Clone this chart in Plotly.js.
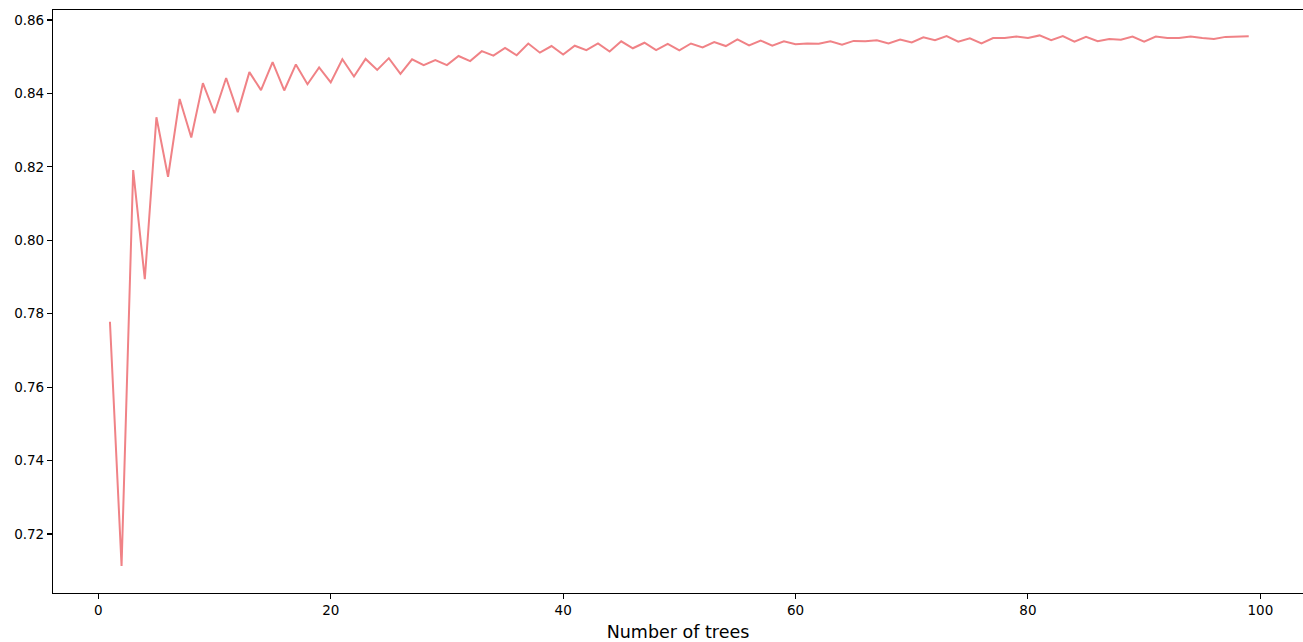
<!DOCTYPE html>
<html>
<head>
<meta charset="utf-8">
<script src="https://cdn.plot.ly/plotly-3.0.1.min.js"></script>
<style>
  html, body { margin: 0; padding: 0; background: #fff; }
  #chart { width: 1303px; height: 642px; }
</style>
</head>
<body>
<div id="chart"></div>
<script>
// Number of trees in the ensemble (1..99)
const nTrees = Array.from({length: 99}, (_, i) => i + 1);

// Accuracy score for each ensemble size
const accuracy = [
  0.7778, 0.7113, 0.8191, 0.7894, 0.8335, 0.8173, 0.8385, 0.8280, 0.8428, 0.8346,
  0.8442, 0.8349, 0.8458, 0.8409, 0.8485, 0.8408, 0.8479, 0.8425, 0.8471, 0.8430,
  0.8493, 0.8446, 0.8494, 0.8464, 0.8496, 0.8453, 0.8493, 0.8477, 0.8491, 0.8477,
  0.8502, 0.8488, 0.8515, 0.8503, 0.8524, 0.8504, 0.8536, 0.8511, 0.8529, 0.8506,
  0.8530, 0.8518, 0.8536, 0.8514, 0.8542, 0.8523, 0.8538, 0.8518, 0.8535, 0.8517,
  0.8536, 0.8525, 0.8540, 0.8529, 0.8547, 0.8531, 0.8544, 0.8530, 0.8542, 0.8534,
  0.8536, 0.8535, 0.8542, 0.8533, 0.8543, 0.8542, 0.8545, 0.8536, 0.8547, 0.8539,
  0.8553, 0.8545, 0.8556, 0.8541, 0.8550, 0.8536, 0.8551, 0.8551, 0.8555, 0.8551,
  0.8558, 0.8545, 0.8556, 0.8541, 0.8554, 0.8542, 0.8548, 0.8546, 0.8555, 0.8541,
  0.8555, 0.8551, 0.8551, 0.8555, 0.8551, 0.8548, 0.8554, 0.8554, 0.8556
];

const xTicks = [0, 20, 40, 60, 80, 100];
const yTicks = [0.72, 0.74, 0.76, 0.78, 0.80, 0.82, 0.84, 0.86];

const trace = {
  x: nTrees,
  y: accuracy,
  type: 'scatter',
  mode: 'lines',
  line: { color: '#f08286', width: 2 },
  hoverinfo: 'x+y'
};

const axisCommon = {
  showgrid: false,
  zeroline: false,
  showline: true,
  linecolor: '#000',
  linewidth: 1.1,
  ticks: 'outside',
  ticklen: 5,
  tickwidth: 1.1,
  tickcolor: '#000',
  tickfont: { family: 'DejaVu Sans, sans-serif', size: 13.5, color: '#000' }
};

const layout = {
  width: 1303,
  height: 642,
  paper_bgcolor: '#fff',
  plot_bgcolor: '#fff',
  showlegend: false,
  margin: { l: 53, r: 0, t: 10, b: 49 },
  xaxis: Object.assign({}, axisCommon, {
    range: [-3.9, 103.67],
    tickvals: xTicks,
    ticktext: xTicks.map(String),
    mirror: true,
    title: {
      text: 'Number of trees',
      font: { family: 'DejaVu Sans, sans-serif', size: 17.5, color: '#000' },
      standoff: 8
    }
  }),
  yaxis: Object.assign({}, axisCommon, {
    range: [0.70393, 0.86272],
    tickvals: yTicks,
    ticktext: yTicks.map(v => v.toFixed(2))
  })
};

Plotly.newPlot('chart', [trace], layout, { staticPlot: true, displayModeBar: false });
</script>
</body>
</html>
